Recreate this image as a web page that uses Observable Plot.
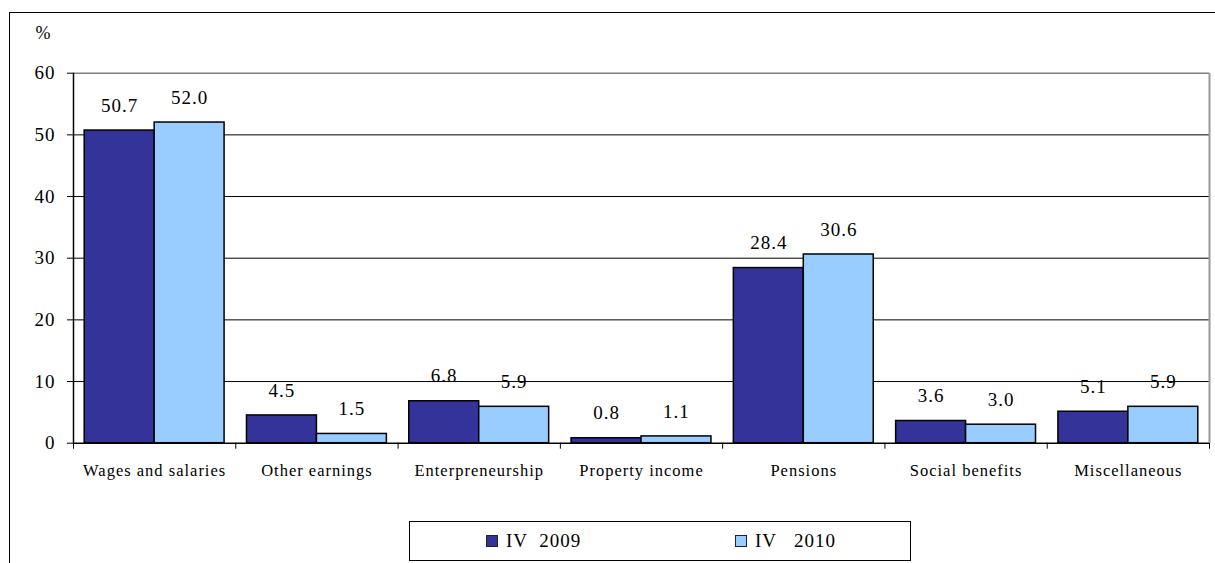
<!DOCTYPE html>
<html>
<head>
<meta charset="utf-8">
<script src="https://cdn.jsdelivr.net/npm/d3@7"></script>
<script src="https://cdn.jsdelivr.net/npm/@observablehq/plot@0.6"></script>
<style>
  html, body { margin: 0; padding: 0; background: #fff; }
  #wrap { position: relative; width: 1215px; height: 563px; overflow: hidden; font-family: 'Liberation Serif'; }
  #frame { position: absolute; left: 9px; top: 12px; width: 1210px; height: 560px; border-left: 1.5px solid #000; border-top: 1.5px solid #000; pointer-events: none; }
  #legend { position: absolute; left: 409px; top: 521px; width: 500px; height: 38px; border: 1.5px solid #000; background: #fff; }
  .item { position: absolute; top: 0; height: 38px; display: flex; align-items: center; font-family: 'Liberation Serif'; font-size: 19px; letter-spacing: 1px; white-space: pre; color: #000; }
  .sw { width: 10px; height: 10px; border: 1.5px solid #222; margin-right: 8px; }
  svg text { font-family: 'Liberation Serif'; }
</style>
</head>
<body>
<div id="wrap">
  <div id="chart"></div>
  <div id="frame"></div>
  <div id="legend"></div>
</div>
<script>
// ---- data ----
const categories = ["Wages and salaries", "Other earnings", "Enterpreneurship", "Property income", "Pensions", "Social benefits", "Miscellaneous"];
const series = ["IV  2009", "IV   2010"];
const values2009 = [50.7, 4.5, 6.8, 0.8, 28.4, 3.6, 5.1];
const values2010 = [52.0, 1.5, 5.9, 1.1, 30.6, 3.0, 5.9];
const yTicks = [0, 10, 20, 30, 40, 50, 60];
const colors = ["#333399", "#99CCFF"];

const rows = categories.flatMap((c, i) => series.map((s, j) => ({
  cat: c, i, j, series: s, value: (j === 0 ? values2009 : values2010)[i]
})));
const bw = 0.431; // bar width as a fraction of the category slot
const FONT = "'Liberation Serif'";

const W = 1215, H = 510;
const chart = Plot.plot({
  width: W,
  height: H,
  marginLeft: 73,
  marginRight: 6,
  marginTop: 72.7,
  marginBottom: H - 442.7,
  style: { fontFamily: FONT, fontSize: "19px", letterSpacing: "1px", background: "transparent", color: "#000" },
  x: { domain: [0, categories.length], ticks: d3.range(0, categories.length + 1), tickSize: 6, tickFormat: () => "", label: null },
  y: { domain: [0, 60], ticks: yTicks, tickSize: 6, tickPadding: 12, label: null },
  color: { domain: series, range: colors },
  marks: [
    Plot.ruleY(yTicks.filter(t => t > 0 && t < 60), { stroke: "#000", strokeWidth: 1 }),
    Plot.ruleY([60], { stroke: "#808080", strokeWidth: 1.5 }),
    Plot.ruleX([categories.length], { y1: 0, y2: 60, stroke: "#999", strokeWidth: 2 }),
    Plot.rectY(rows, {
      x1: d => d.i + 0.5 + (d.j - 1) * bw,
      x2: d => d.i + 0.5 + d.j * bw,
      y: "value",
      fill: "series",
      stroke: "#000",
      strokeWidth: 1.5
    }),
    Plot.ruleY([0], { stroke: "#000", strokeWidth: 1.5 }),
    Plot.ruleX([0], { y1: 0, y2: 60, stroke: "#000", strokeWidth: 1.5 }),
    Plot.text(rows, {
      x: d => d.i + 0.5 + (d.j - 0.5) * bw,
      y: "value",
      text: d => d.value.toFixed(1),
      fontSize: 19,
      fontFamily: FONT,
      lineAnchor: "middle",
      dy: -25,
      fill: "#000"
    }),
    Plot.text(categories, {
      x: (d, i) => i + 0.5,
      frameAnchor: "bottom",
      text: d => d,
      fontSize: 16.5,
      fontFamily: FONT,
      lineAnchor: "middle",
      dy: 28,
      fill: "#000"
    }),
    Plot.text(["%"], {
      frameAnchor: "top-left",
      text: d => d,
      textAnchor: "start",
      lineAnchor: "middle",
      fontSize: 18,
      fontFamily: FONT,
      dx: -38,
      dy: -39.5,
      fill: "#000"
    })
  ]
});
document.getElementById("chart").appendChild(chart);

// legend (HTML, below the SVG area)
const legend = document.getElementById("legend");
const itemLeft = [76, 325];
series.forEach((s, j) => {
  const it = document.createElement("div");
  it.className = "item";
  it.style.left = itemLeft[j] + "px";
  const sw = document.createElement("span");
  sw.className = "sw";
  sw.style.background = colors[j];
  const tx = document.createElement("span");
  tx.textContent = s;
  it.appendChild(sw);
  it.appendChild(tx);
  legend.appendChild(it);
});
</script>
</body>
</html>
